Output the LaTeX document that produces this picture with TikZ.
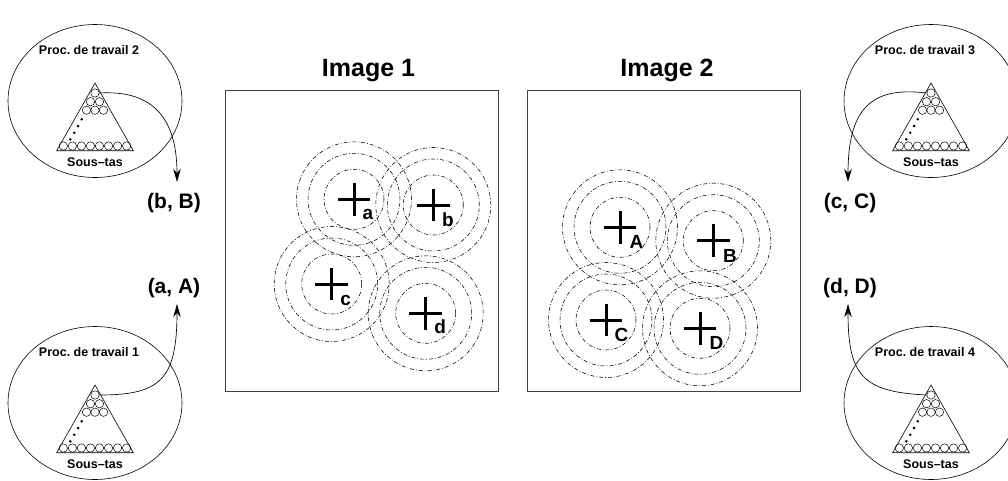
\documentclass[tikz,border=0pt]{standalone}
\usepackage{fontspec}
\setmainfont{Liberation Sans}
\usetikzlibrary{arrows.meta,shapes.misc}
\frenchspacing
\begin{document}
\begin{tikzpicture}[x=1pt,y=-1pt,
  ring/.style={line width=0.55pt, dash pattern=on 4pt off 2pt on 0.8pt off 2pt},
  crossmark/.style={cross out, draw, rotate=45, minimum size=20pt, inner sep=0pt, line width=3pt},
  labsub/.style={font=\fontsize{19}{22}\selectfont\bfseries, inner sep=0pt, anchor=base west},
  ball/.style={circle, draw, minimum size=8.4pt, inner sep=0pt, line width=0.5pt},
  pdot/.style={circle, fill, minimum size=2.8pt, inner sep=0pt},
  proctext/.style={font=\fontsize{12.5}{14}\selectfont\bfseries, inner sep=0pt},
  pairlab/.style={font=\fontsize{21}{24}\selectfont\bfseries, inner sep=0pt, anchor=base},
  titlelab/.style={font=\fontsize{25}{30}\selectfont\bfseries, inner sep=0pt, anchor=base},
  imgbox/.style={draw=black!75, line width=0.8pt, minimum width=273pt, minimum height=301pt, inner sep=0pt},
  flow/.style={line width=0.65pt, -{Stealth[length=13pt,width=7.5pt]}},
  pics/proc/.style={code={
    \draw[line width=0.6pt] (0,0) ellipse[x radius=87pt, y radius=76.5pt];
    \node[proctext] (-title) at (-6,-51) {Proc. de travail #1};
    \draw[line width=0.6pt] (0,-18) -- (-38.3,49.7) -- (38.3,49.7) -- cycle;
    \node[ball] (-top) at (0,-8) {};
    \node[ball] at (-4.5,0.7) {};
    \node[ball] at (4.5,0.7) {};
    \node[ball] at (-8.5,9.2) {};
    \node[ball] at (0,9.2) {};
    \node[ball] at (8.5,9.2) {};
    \foreach \p in {(-13.3,18.3),(-16.9,25),(-20.8,31.7),(-24.7,38.3)} \node[pdot] at \p {};
    \foreach \k in {0,...,7} \node[ball] at (-31.7+9.05*\k,45) {};
    \node[proctext] (-heap) at (0,61.3) {Sous–tas};
  }}
]
\useasboundingbox (0,0) rectangle (1008,480);
\clip (0,0) rectangle (1008,480);

% image boxes and titles
\node[imgbox] (box1) at (361.5,240.5) {};
\node[imgbox] (box2) at (663.5,240.5) {};
\node[titlelab] (t1) at (368.5,76) {Image 1};
\node[titlelab] (t2) at (667,76) {Image 2};

% crosses
\node[crossmark] (xa) at (354,199.3) {};
\node[crossmark] (xb) at (433.3,205) {};
\node[crossmark] (xc) at (331.7,284) {};
\node[crossmark] (xd) at (425.7,313.3) {};
\node[crossmark] (xA) at (620,227.3) {};
\node[crossmark] (xB) at (713.3,240.7) {};
\node[crossmark] (xC) at (606,320) {};
\node[crossmark] (xD) at (700,328.3) {};

\node[labsub] (la) at ([xshift=8.5pt,yshift=-20pt]xa.center) {a};
\node[labsub] (lb) at ([xshift=8.5pt,yshift=-21pt]xb.center) {b};
\node[labsub] (lc) at ([xshift=8.5pt,yshift=-21pt]xc.center) {c};
\node[labsub] (ld) at ([xshift=8.5pt,yshift=-20.5pt]xd.center) {d};
\node[labsub] (lA) at ([xshift=9.5pt,yshift=-21.5pt]xA.center) {A};
\node[labsub] (lB) at ([xshift=9.5pt,yshift=-21.5pt]xB.center) {B};
\node[labsub] (lC) at ([xshift=8.5pt,yshift=-21.5pt]xC.center) {C};
\node[labsub] (lD) at ([xshift=9.5pt,yshift=-21.5pt]xD.center) {D};

% rings
\foreach \c in {xa,xb,xc,xd,xA,xB,xC,xD}{
  \foreach \r in {30,46,57.5}{
    \draw[ring] (\c) circle[radius=\r pt];
  }
}

% processors
\pic (p2) at (95,101) {proc=2};
\pic (p1) at (95,403) {proc=1};
\pic (p3) at (931,101) {proc=3};
\pic (p4) at (931,403) {proc=4};

% pair labels
\node[pairlab] (bB) at (174,208) {(b, B)};
\node[pairlab] (aA) at (174,293) {(a, A)};
\node[pairlab] (cC) at (850,208) {(c, C)};
\node[pairlab] (dD) at (850,293) {(d, D)};

% arrows
\draw[flow] (p2-top.east) .. controls (150,90) and (177,115) .. ([xshift=3pt,yshift=10.7pt]bB.north);
\draw[flow] (p1-top.east) .. controls (160,395) and (177,380) .. ([xshift=3pt,yshift=-6.5pt]aA.south);
\draw[flow] (p3-top.west) .. controls (870,86) and (848,110) .. ([xshift=-2pt,yshift=10.7pt]cC.north);
\draw[flow] (p4-top.west) .. controls (862,392) and (848,375) .. ([xshift=-2pt,yshift=-6.5pt]dD.south);
\end{tikzpicture}
\end{document}
